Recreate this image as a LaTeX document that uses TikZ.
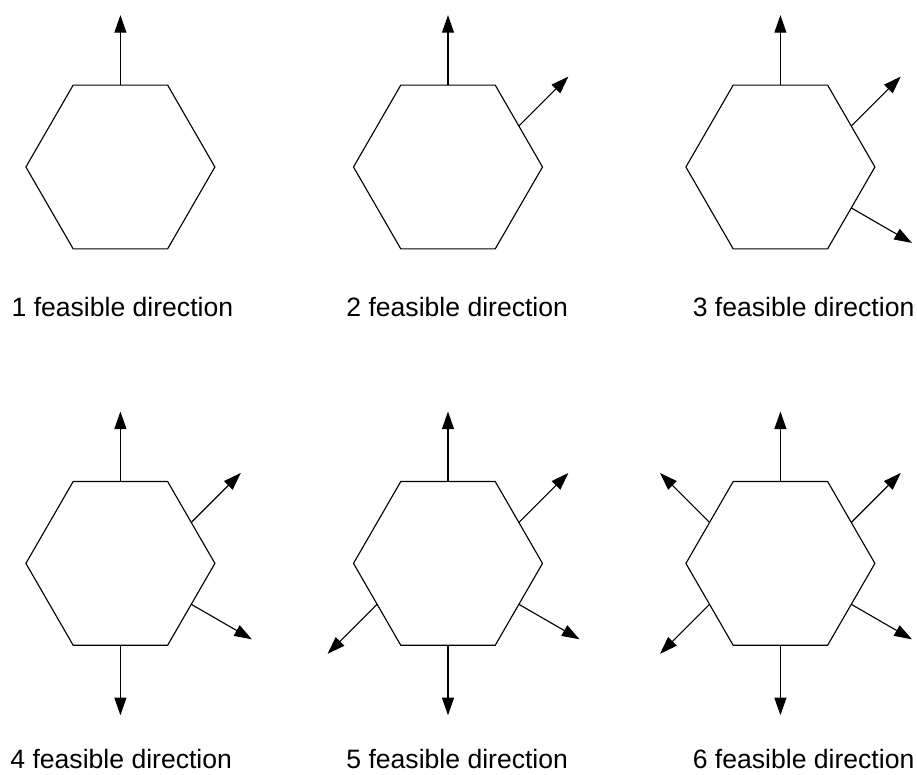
\documentclass[tikz,border=0pt]{standalone}
\usepackage{fontspec}
\setmainfont{Liberation Sans}
\usetikzlibrary{shapes.geometric,arrows.meta}

\tikzset{
  hexa/.style={draw,regular polygon,regular polygon sides=6,
    minimum size=4.725cm,inner sep=0pt,outer sep=0pt,line width=0.8pt},
  dir/.style={-{Triangle[length=0.44cm,width=0.3cm]},line width=0.8pt},
  caption/.style={anchor=base,inner sep=0pt,font=\fontsize{18.9}{22}\selectfont}
}

\begin{document}
\begin{tikzpicture}
  \useasboundingbox (0,0) rectangle (22.925,19.375);

  % top row
  \node[hexa] (h1) at (3.01,15.2) {};
  \draw[dir] (h1.90) -- ++(90:1.75) coordinate (h1n);
  \node[caption] (c1) at (3.06,11.47) {1 feasible direction};

  \node[hexa] (h2) at (11.2,15.2) {};
  \draw[dir] (h2.90) -- ++(90:1.75) coordinate (h2n);
  \draw[dir] (h2.30) -- ++(45:1.75) coordinate (h2ne);
  \node[caption] (c2) at (11.43,11.47) {2 feasible direction};

  \node[hexa] (h3) at (19.51,15.2) {};
  \draw[dir] (h3.90) -- ++(90:1.75) coordinate (h3n);
  \draw[dir] (h3.30) -- ++(45:1.75) coordinate (h3ne);
  \draw[dir] (h3.-30) -- ++(-30:1.75) coordinate (h3se);
  \node[caption] (c3) at (20.09,11.47) {3 feasible direction};

  % bottom row
  \node[hexa] (h4) at (3.01,5.29) {};
  \draw[dir] (h4.90) -- ++(90:1.75) coordinate (h4n);
  \draw[dir] (h4.30) -- ++(45:1.75) coordinate (h4ne);
  \draw[dir] (h4.-30) -- ++(-30:1.75) coordinate (h4se);
  \draw[dir] (h4.-90) -- ++(-90:1.75) coordinate (h4s);
  \node[caption] (c4) at (3.03,0.16) {4 feasible direction};

  \node[hexa] (h5) at (11.2,5.29) {};
  \draw[dir] (h5.90) -- ++(90:1.75) coordinate (h5n);
  \draw[dir] (h5.30) -- ++(45:1.75) coordinate (h5ne);
  \draw[dir] (h5.-30) -- ++(-30:1.75) coordinate (h5se);
  \draw[dir] (h5.-90) -- ++(-90:1.75) coordinate (h5s);
  \draw[dir] (h5.210) -- ++(225:1.75) coordinate (h5sw);
  \node[caption] (c5) at (11.43,0.16) {5 feasible direction};

  \node[hexa] (h6) at (19.51,5.29) {};
  \draw[dir] (h6.90) -- ++(90:1.75) coordinate (h6n);
  \draw[dir] (h6.30) -- ++(45:1.75) coordinate (h6ne);
  \draw[dir] (h6.-30) -- ++(-30:1.75) coordinate (h6se);
  \draw[dir] (h6.-90) -- ++(-90:1.75) coordinate (h6s);
  \draw[dir] (h6.210) -- ++(225:1.75) coordinate (h6sw);
  \draw[dir] (h6.150) -- ++(135:1.75) coordinate (h6nw);
  \node[caption] (c6) at (20.09,0.16) {6 feasible direction};
\end{tikzpicture}
\end{document}
